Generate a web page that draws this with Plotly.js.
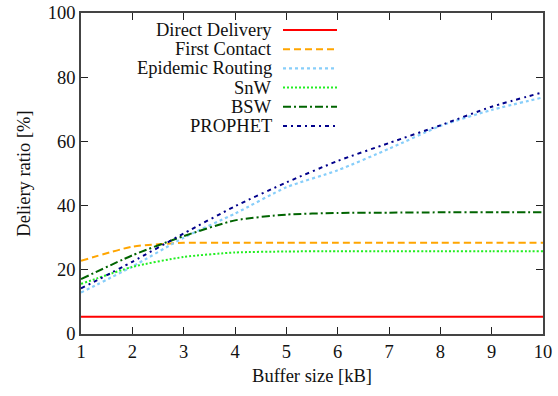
<!DOCTYPE html>
<html><head><meta charset="utf-8">
<script src="https://cdn.plot.ly/plotly-3.0.1.min.js"></script>
<style>
body{margin:0;overflow:hidden}
.prime{position:absolute;left:0;top:420px;font-size:18px;white-space:nowrap}
</style>
</head><body>
<div id="chart" style="width:558px;height:396px"></div>
<div class="prime" style="font-family:'Times New Roman'">Direct Delivery 0123456789</div>
<div class="prime" style="font-family:'Liberation Serif';top:450px">Direct Delivery 0123456789</div>
<script>
const bufferSize = [1,2,3,4,5,6,7,8,9,10];
const directDelivery = [5.4,5.4,5.4,5.4,5.4,5.4,5.4,5.4,5.4,5.4];
const firstContact = [22.8,27.2,28.4,28.4,28.4,28.4,28.4,28.4,28.4,28.4];
const epidemic = [12.9,21.0,30.0,37.5,45.7,51.0,57.7,64.8,69.8,73.7];
const snw = [15.6,20.9,24.0,25.4,25.7,25.8,25.8,25.8,25.8,25.8];
const bsw = [17.1,24.5,30.5,35.4,37.2,37.7,37.8,37.9,37.9,37.9];
const prophet = [14.2,22.5,31.3,39.8,47.2,53.9,59.5,65.0,70.8,75.3];
const seriesNames = ["Direct Delivery","First Contact","Epidemic Routing","SnW","BSW","PROPHET"];

const styles = [
  {color:"#ff0000", dash:"solid", width:2},
  {color:"#ffa500", dash:"7px,4px", width:2},
  {color:"#87cefa", dash:"3px,3px", width:2.2},
  {color:"#22ee22", dash:"2px,2px", width:2},
  {color:"#006400", dash:"8px,3px,2px,3px", width:2},
  {color:"#00008b", dash:"4px,4px,2px,4px", width:2}
];
const series = [directDelivery, firstContact, epidemic, snw, bsw, prophet];

const traces = series.map((ys,i)=>({
  x: bufferSize, y: ys, type:"scatter", mode:"lines", name: seriesNames[i],
  line:{color:styles[i].color, dash:styles[i].dash, width:styles[i].width, shape:"spline", smoothing:0.6},
  showlegend:false, hoverinfo:"skip"
}));

const FAM = "Liberation Serif";
const F = () => ({family:FAM, size:18.5, color:"#111"});
const annotations = [], shapes = [];
const legTop = 30, legStep = 19.2, plotTop = 13, plotH = 321, plotL = 81, plotW = 462;
seriesNames.forEach((n,i)=>{
  const ypx = legTop + i*legStep;
  const yp = 1 - (ypx - plotTop)/plotH;
  annotations.push({xref:"paper", yref:"paper", x:(274-plotL)/plotW, y:yp, xanchor:"right", yanchor:"middle",
    text:n, showarrow:false, font:F()});
  shapes.push({type:"line", xref:"paper", yref:"paper", x0:(283-plotL)/plotW, x1:(337-plotL)/plotW, y0:yp, y1:yp,
    line:{color:styles[i].color, dash:styles[i].dash, width:styles[i].width}});
});

const layout = {
  width:558, height:396,
  margin:{l:81, r:15, t:13, b:62},
  showlegend:false,
  font:F(),
  xaxis:{range:[1,10], tickvals:bufferSize, ticks:"inside", ticklen:7, tickcolor:"#222", tickwidth:1.2,
    showline:true, linecolor:"#444", linewidth:1.5, mirror:"ticks", showgrid:false, zeroline:false,
    title:{text:"Buffer size [kB]", font:F(), standoff:8}, tickfont:F()},
  yaxis:{range:[0,100], dtick:20, ticks:"inside", ticklen:7, tickcolor:"#222", tickwidth:1.2,
    showline:true, linecolor:"#444", linewidth:1.5, mirror:"ticks", showgrid:false, zeroline:false,
    title:{text:"Deliery ratio [%]", font:F(), standoff:12}, tickfont:F()},
  annotations: annotations, shapes: shapes
};
function draw(){ Plotly.newPlot("chart", traces, JSON.parse(JSON.stringify(layout)), {displayModeBar:false}); }
draw();
</script>
</body></html>
